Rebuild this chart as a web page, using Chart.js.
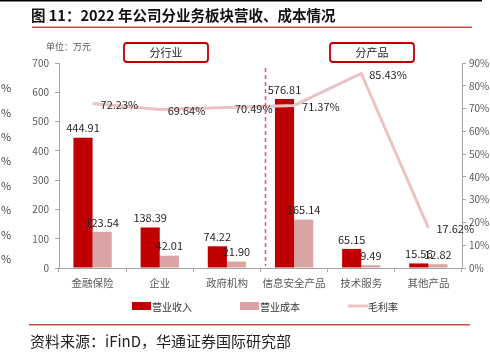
<!DOCTYPE html>
<html lang="zh">
  <head>
    <meta charset="UTF-8" />
    <title>2022 年公司分业务板块营收、成本情况</title>
    <style>
      html, body { margin: 0; padding: 0; background: #fff; }
      #wrap { position: relative; width: 490px; height: 352px; }
    </style>
  </head>
  <body>
    <div id="wrap"><canvas id="chart" width="490" height="352"></canvas></div>
    <script src="https://cdn.jsdelivr.net/npm/chart.js@4"></script>
    <script>
      // data
      const categories = ["金融保险", "企业", "政府机构", "信息安全产品", "技术服务", "其他产品"];
      const revenue = [444.91, 138.39, 74.22, 576.81, 65.15, 15.56];
      const cost = [123.54, 42.01, 21.9, 165.14, 9.49, 12.82];
      const margin = [72.23, 69.64, 70.49, 71.37, 85.43, 17.62];
      const leftTicks = [0, 100, 200, 300, 400, 500, 600, 700];
      const rightTicks = [0, 10, 20, 30, 40, 50, 60, 70, 80, 90];

      const FONT = '"Noto Sans CJK SC", "Noto Sans", sans-serif';
      const RED = "#c00000";
      const PINK = "#dba3a3";
      const LINE = "#ebc3c3";

      // page decorations, labels and legend
      const extras = {
        id: "extras",
        afterDatasetsDraw(chart) {
          const c = chart.ctx;
          const xs = chart.scales.x;
          c.save();

          // value labels
          c.font = "11px " + FONT;
          c.fillStyle = "#262626";
          c.textAlign = "center";
          c.textBaseline = "bottom";
          [0, 1].forEach((di) => {
            const meta = chart.getDatasetMeta(di);
            const vals = di === 0 ? revenue : cost;
            meta.data.forEach((bar, i) => {
              c.fillText(vals[i].toFixed(2), bar.x, bar.y - 4);
            });
          });
          const lm = chart.getDatasetMeta(2);
          c.textAlign = "left";
          c.textBaseline = "middle";
          lm.data.forEach((pt, i) => {
            c.fillText(margin[i].toFixed(2) + "%", pt.x + 8, pt.y + 1);
          });

          // dashed separator
          const sx = (xs.getPixelForValue(2) + xs.getPixelForValue(3)) / 2 + 5;
          c.strokeStyle = "#e05a5a";
          c.lineWidth = 1.5;
          c.setLineDash([4, 3]);
          c.beginPath();
          c.moveTo(sx, 68);
          c.lineTo(sx, 266);
          c.stroke();
          c.setLineDash([]);
          c.restore();
        },
        afterDraw(chart) {
          const c = chart.ctx;
          c.save();

          // top rule + title
          c.fillStyle = "#000";
          c.fillRect(0, 0, 482, 1.5);
          c.font = "bold 14.5px " + FONT;
          c.textAlign = "left";
          c.textBaseline = "middle";
          c.fillStyle = "#111";
          c.fillText("图 11：2022 年公司分业务板块营收、成本情况", 31, 15);
          c.fillStyle = "#c8504b";
          c.fillRect(32, 26.5, 440, 1.5);

          c.font = "9px " + FONT;
          c.fillStyle = "#595959";
          c.fillText("单位：万元", 46, 47);

          // boxes
          c.lineWidth = 1.8;
          c.strokeStyle = "#c00000";
          [[124, "分行业"], [330, "分产品"]].forEach(([bx, t]) => {
            c.beginPath();
            c.roundRect(bx, 43, 84, 19, 3);
            c.stroke();
            c.font = "11px " + FONT;
            c.fillStyle = "#222";
            c.textAlign = "center";
            c.fillText(t, bx + 42, 53);
          });

          // cropped axis remnant on the left edge
          c.font = "11px " + FONT;
          c.fillStyle = "#444";
          c.textAlign = "left";
          for (let i = 0; i < 8; i++) c.fillText("%", 1, 88 + i * 24.4);

          // legend
          c.font = "10px " + FONT;
          c.textAlign = "left";
          c.fillStyle = RED;
          c.fillRect(132, 302, 19, 8);
          c.fillStyle = "#333";
          c.fillText("营业收入", 152, 307);
          c.fillStyle = PINK;
          c.fillRect(240, 302, 19, 8);
          c.fillStyle = "#333";
          c.fillText("营业成本", 260, 307);
          c.strokeStyle = LINE;
          c.lineWidth = 3;
          c.beginPath();
          c.moveTo(348, 306);
          c.lineTo(368, 306);
          c.stroke();
          c.fillStyle = "#333";
          c.fillText("毛利率", 368, 307);

          // source
          c.fillStyle = "#c8504b";
          c.fillRect(29, 324, 441, 1.5);
          c.font = "15px " + FONT;
          c.fillStyle = "#222";
          c.fillText("资料来源：iFinD，华通证券国际研究部", 30, 341);
          c.restore();
        },
      };

      new Chart(document.getElementById("chart"), {
        type: "bar",
        data: {
          labels: categories,
          datasets: [
            { label: "营业收入", data: revenue, backgroundColor: RED, yAxisID: "y", order: 2 },
            { label: "营业成本", data: cost, backgroundColor: PINK, yAxisID: "y", order: 2 },
            {
              type: "line",
              label: "毛利率",
              data: margin,
              borderColor: LINE,
              borderWidth: 3,
              pointRadius: 0,
              tension: 0,
              yAxisID: "y1",
              order: 1,
            },
          ],
        },
        options: {
          responsive: false,
          animation: false,
          devicePixelRatio: 1,
          layout: { padding: { left: 19, right: 0, top: 63, bottom: 54 } },
          plugins: { legend: { display: false }, tooltip: { enabled: false } },
          datasets: { bar: { categoryPercentage: 0.57, barPercentage: 1 } },
          scales: {
            x: {
              grid: { display: true, offset: true, drawOnChartArea: false, tickLength: 4, color: "#a6a6a6" },
              border: { color: "#a6a6a6", width: 1 },
              ticks: {
                color: "#595959",
                font: { size: 10.5, family: FONT },
                padding: 5,
                maxRotation: 0,
                minRotation: 0,
                autoSkip: false,
              },
              afterFit: (s) => { s.height = 30; },
            },
            y: {
              position: "left",
              min: 0,
              max: 700,
              afterBuildTicks: (s) => { s.ticks = leftTicks.map((v) => ({ value: v })); },
              grid: { display: true, drawOnChartArea: false, tickLength: 4, color: "#a6a6a6" },
              border: { color: "#a6a6a6" },
              ticks: { color: "#595959", font: { size: 10, family: FONT }, padding: 6 },
              afterFit: (s) => { s.width = 40; },
            },
            y1: {
              position: "right",
              min: 0,
              max: 90,
              afterBuildTicks: (s) => { s.ticks = rightTicks.map((v) => ({ value: v })); },
              grid: { display: true, drawOnChartArea: false, tickLength: 4, color: "#a6a6a6" },
              border: { color: "#a6a6a6" },
              ticks: { color: "#595959", font: { size: 10, family: FONT }, padding: 3, callback: (v) => v + "%" },
              afterFit: (s) => { s.width = 28; },
            },
          },
        },
        plugins: [extras],
      });
    </script>
  </body>
</html>
